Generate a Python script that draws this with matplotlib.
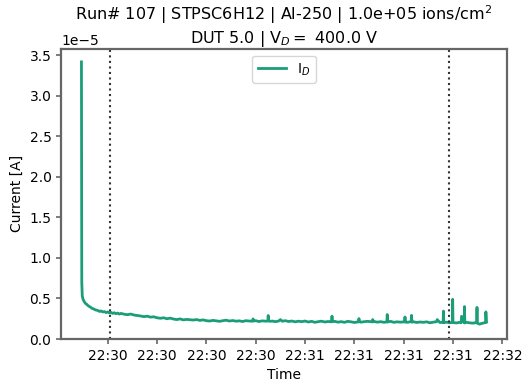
import pandas as pd
import matplotlib
matplotlib.use("Agg")
import matplotlib.pyplot as plt
import matplotlib.dates as mdates

run_start = pd.Timestamp("2023-01-01 22:30:00")

# (seconds after 22:30:00, drain current in units of 1e-5 A)
samples = [
    (-8.0, 3.42), (-7.9, 0.70), (-7.75, 0.53), (-7.5, 0.49), (-7.2, 0.465), (-6.8, 0.44),
    (-6.3, 0.425), (-5.8, 0.405), (-5.3, 0.395), (-4.8, 0.378), (-4.3, 0.372), (-3.8, 0.360),
    (-3.0, 0.352), (-2.5, 0.340), (-2.0, 0.346), (-1.5, 0.334), (-1.0, 0.338), (-0.5, 0.326),
    (0.0, 0.334), (0.5, 0.322), (1.0, 0.328), (1.5, 0.316), (2.0, 0.324), (2.5, 0.312),
    (3.0, 0.320), (3.5, 0.308), (4.0, 0.316), (5.0, 0.306), (6.0, 0.300), (7.0, 0.308),
    (8.0, 0.296), (9.0, 0.290), (10.0, 0.284), (11.0, 0.276), (12.0, 0.282), (13.0, 0.270),
    (14.0, 0.274), (15.0, 0.262), (16.0, 0.256), (17.0, 0.262), (18.0, 0.250), (19.0, 0.258),
    (20.0, 0.246), (21.0, 0.240), (22.0, 0.248), (23.0, 0.236), (24.0, 0.242), (25.0, 0.238),
    (26.0, 0.234), (27.0, 0.240), (28.0, 0.230), (29.0, 0.236), (30.0, 0.226), (31.0, 0.222),
    (32.0, 0.230), (33.0, 0.224), (34.0, 0.218), (35.0, 0.226), (36.0, 0.232), (37.0, 0.222),
    (38.0, 0.228), (39.0, 0.220), (40.0, 0.224), (41.0, 0.216), (42.0, 0.226), (43.0, 0.222),
    (44.0, 0.220), (44.2, 0.248), (44.4, 0.222), (45.0, 0.226), (46.0, 0.216), (47.0, 0.224),
    (48.0, 0.220), (48.7, 0.222), (48.8, 0.290), (48.9, 0.224), (49.5, 0.218), (50.0, 0.222),
    (51.0, 0.214), (52.0, 0.222), (52.5, 0.240), (53.0, 0.220), (54.0, 0.226), (55.0, 0.216),
    (56.0, 0.222), (57.0, 0.212), (58.0, 0.220), (59.0, 0.214), (60.0, 0.222), (61.0, 0.210),
    (62.0, 0.218), (63.0, 0.206), (64.0, 0.214), (65.0, 0.220), (66.0, 0.210), (67.0, 0.216),
    (68.1, 0.212), (68.2, 0.282), (68.3, 0.214), (69.0, 0.218), (70.0, 0.208), (71.0, 0.214),
    (72.0, 0.206), (73.0, 0.218), (74.0, 0.212), (75.0, 0.204), (76.3, 0.212), (76.4, 0.252),
    (76.5, 0.214), (77.0, 0.208), (78.0, 0.214), (79.0, 0.218), (80.5, 0.212), (80.6, 0.240),
    (80.7, 0.212), (81.0, 0.216), (82.0, 0.208), (83.0, 0.214), (84.0, 0.206), (84.9, 0.212),
    (85.0, 0.302), (85.1, 0.210), (86.0, 0.218), (87.0, 0.206), (88.0, 0.212), (89.0, 0.208),
    (90.3, 0.212), (90.4, 0.272), (90.5, 0.210), (91.0, 0.206), (92.3, 0.214), (92.4, 0.292),
    (92.5, 0.208), (93.0, 0.212), (94.0, 0.204), (95.0, 0.210), (96.0, 0.206), (97.0, 0.212),
    (98.0, 0.200), (99.0, 0.208), (100.0, 0.214), (100.2, 0.240), (101.0, 0.204), (102.0, 0.206),
    (102.1, 0.345), (102.2, 0.202), (103.0, 0.208), (104.0, 0.200), (104.8, 0.206),
    (104.9, 0.490), (105.0, 0.204), (106.0, 0.198), (107.0, 0.206), (107.5, 0.200),
    (107.6, 0.280), (108.4, 0.204), (108.5, 0.400), (108.6, 0.198), (109.0, 0.206),
    (110.0, 0.200), (111.0, 0.196), (112.2, 0.202), (112.3, 0.390), (112.4, 0.196),
    (113.0, 0.184), (114.0, 0.194), (114.9, 0.204), (115.0, 0.335), (115.2, 0.210),
]

# dotted markers (beam on / beam off), seconds after 22:30:00
beam_marks = [0.7, 103.9]

t_sec = [s for s, _ in samples]
current = [v * 1e-5 for _, v in samples]
times = run_start + pd.to_timedelta(t_sec, unit="s")

plt.rcParams["font.size"] = 10
grey = "#666666"

fig, ax = plt.subplots(figsize=(5.23, 3.87), dpi=100)
fig.subplots_adjust(left=0.117, right=0.969, top=0.874, bottom=0.124)

ax.plot(times, current, color="#1b9e77", linewidth=2.0, label="I$_D$")
for s in beam_marks:
    ax.axvline(run_start + pd.Timedelta(seconds=s), color="#333333", linestyle=":", linewidth=1.5)

ax.set_ylim(bottom=0)
ax.xaxis.set_major_locator(mdates.SecondLocator(bysecond=[0, 15, 30, 45]))
ax.xaxis.set_major_formatter(mdates.DateFormatter("%H:%M"))

for sp in ax.spines.values():
    sp.set_color(grey)
    sp.set_linewidth(1.6)
ax.tick_params(color=grey, width=1.2)

ax.set_xlabel("Time")
ax.set_ylabel("Current [A]")
ax.set_title("Run# 107 | STPSC6H12 | Al-250 | 1.0e+05 ions/cm$^2$\nDUT 5.0 | V$_D=$ 400.0 V",
             fontsize=11.5, y=1.0, pad=4)
ax.legend(loc="upper center")

fig.savefig("out.png", dpi=100)
